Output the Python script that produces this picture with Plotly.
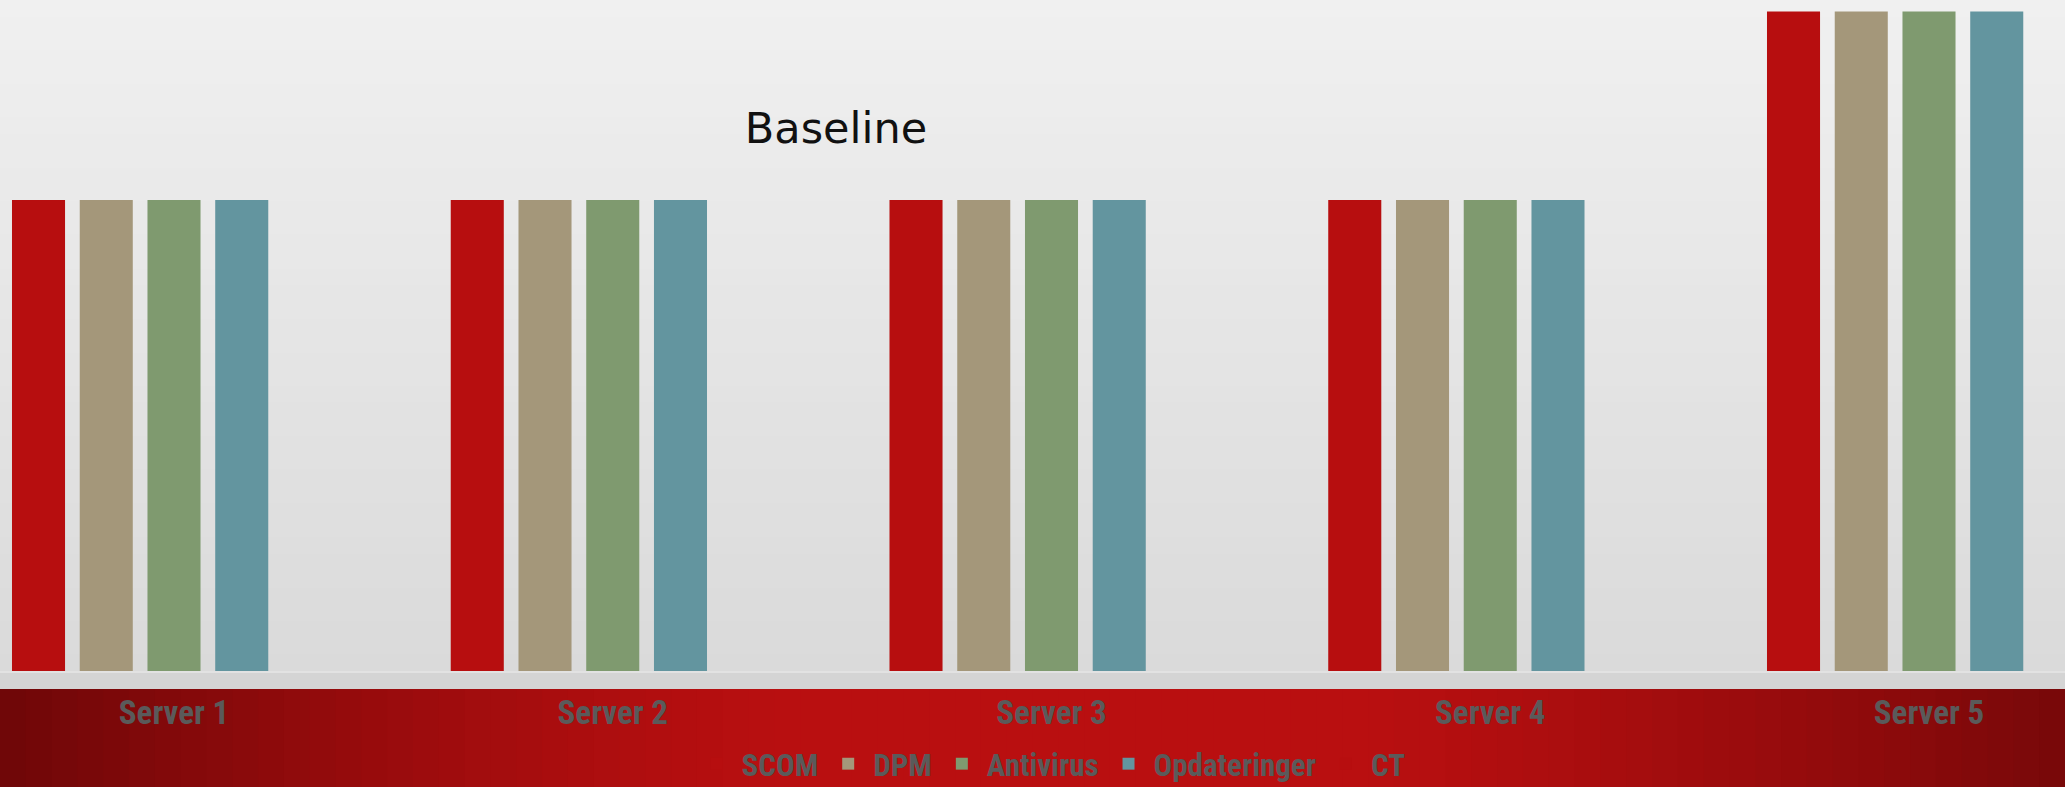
import plotly.graph_objects as go

servers = ["Server 1", "Server 2", "Server 3", "Server 4", "Server 5"]
series_names = ["SCOM", "DPM", "Antivirus", "Opdateringer", "CT"]
scom = [100, 100, 100, 100, 140]
dpm = [100, 100, 100, 100, 140]
antivirus = [100, 100, 100, 100, 140]
opdateringer = [100, 100, 100, 100, 140]
ct = [None, None, None, None, None]
colors = ["#B70E0F", "#A4977A", "#7F9A6F", "#63959F", "#B70E0F"]

W, H = 2065, 787
PLOT_BOTTOM = 671  # pixel of axis baseline
plot_h = PLOT_BOTTOM

fig = go.Figure()
for name, vals, col in zip(series_names, [scom, dpm, antivirus, opdateringer, ct], colors):
    fig.add_trace(go.Bar(name=name, x=servers, y=vals, marker=dict(color=col, line=dict(width=0))))

shapes = []
def px_to_paper_y(p):
    return (PLOT_BOTTOM - p) / plot_h

# background vertical gradient (light gray)
n = 40
for i in range(n):
    t = i / (n - 1)
    g = int(round(240 - 22 * t))
    y0 = i * PLOT_BOTTOM / n
    y1 = (i + 1) * PLOT_BOTTOM / n + 1
    shapes.append(dict(type="rect", xref="paper", yref="paper", x0=0, x1=1,
                       y0=px_to_paper_y(y1), y1=px_to_paper_y(y0),
                       fillcolor=f"rgb({g},{g},{g})", line=dict(width=0), layer="below"))
# red band with horizontal gradient
m = 80
dark = (110, 7, 8)
bright = (185, 15, 16)
for i in range(m):
    xc = (i + 0.5) / m
    d = abs(xc - 0.52) / 0.52
    f = max(0.0, min(1.0, (d - 0.25) / 0.75)) ** 1.3
    c = tuple(int(round(b + (dk - b) * f)) for b, dk in zip(bright, dark))
    shapes.append(dict(type="rect", xref="paper", yref="paper",
                       x0=i / m, x1=(i + 1) / m + 0.001,
                       y0=px_to_paper_y(H + 2), y1=px_to_paper_y(680),
                       fillcolor=f"rgb{c}", line=dict(width=0), layer="below"))
# strip under bars (drawn on top of red band edge)
shapes.append(dict(type="rect", xref="paper", yref="paper", x0=0, x1=1,
                   y0=px_to_paper_y(689), y1=px_to_paper_y(671),
                   fillcolor="#d4d4d4", line=dict(width=0), layer="below"))
shapes.append(dict(type="rect", xref="paper", yref="paper", x0=0, x1=1,
                   y0=px_to_paper_y(673), y1=px_to_paper_y(671),
                   fillcolor="#e2e2e2", line=dict(width=0), layer="below"))

cat_w = 438.75
c0 = 174.0
x_lo = -c0 / cat_w
x_hi = (W - c0) / cat_w
y_top = PLOT_BOTTOM / 4.71

label_font = dict(family="Roboto Condensed, Liberation Sans Narrow, DejaVu Sans Condensed, sans-serif",
                  color="#5a5a5a", weight="bold")

fig.update_layout(
    width=W, height=H,
    margin=dict(l=0, r=0, t=0, b=H - PLOT_BOTTOM, pad=0, autoexpand=False),
    paper_bgcolor="#dcdcdc",
    plot_bgcolor="rgba(0,0,0,0)",
    barmode="group",
    bargap=0.228,
    bargroupgap=0.217,
    shapes=shapes,
    title=dict(text="Baseline", x=836 / W, xanchor="center", xref="paper",
               y=1 - 128 / H, yanchor="middle", yref="container",
               font=dict(family="DejaVu Sans", size=43, color="#111111")),
    xaxis=dict(range=[x_lo, x_hi], showgrid=False, zeroline=False, showline=False,
               ticks="", ticklabelstandoff=19, tickfont=dict(size=33, **label_font)),
    yaxis=dict(range=[0, y_top], visible=False, showgrid=False, zeroline=False),
    legend=dict(orientation="h", x=0.509, xanchor="center", y=px_to_paper_y(764), yanchor="middle",
                bgcolor="rgba(0,0,0,0)", font=dict(size=31, **label_font), traceorder="normal",
                itemwidth=40),
    showlegend=True,
)

fig.write_html("out.html", config={"displayModeBar": False},
               post_script="document.body.style.margin='0';document.body.style.overflow='hidden';")
